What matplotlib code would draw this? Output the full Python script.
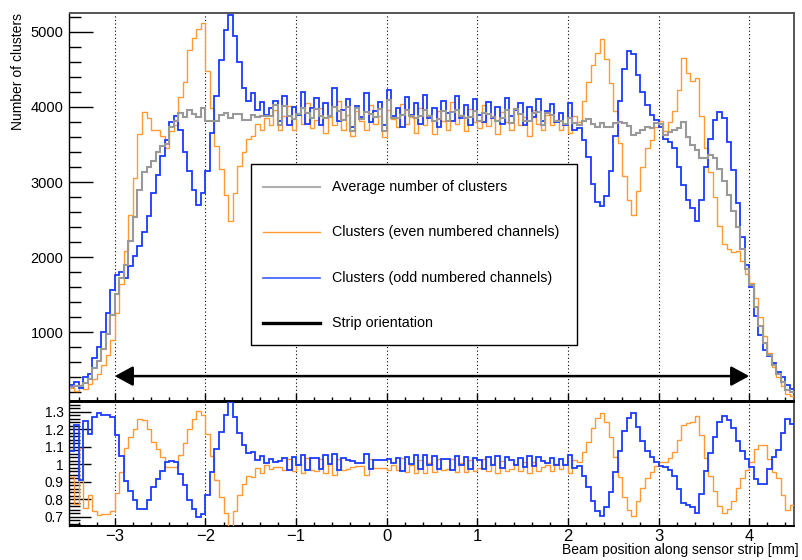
import numpy as np
import matplotlib
matplotlib.use("Agg")
import matplotlib.pyplot as plt
from matplotlib.patches import FancyArrowPatch, Rectangle, ArrowStyle
from matplotlib.lines import Line2D
from matplotlib.ticker import MultipleLocator, FuncFormatter

plt.rcParams['font.family'] = ['Liberation Sans', 'DejaVu Sans']

# ---------------- data ----------------
x_min = -3.5
bin_width = 0.05

even_counts = [
    250, 215, 300, 240, 310, 380, 440, 560, 700, 900,
    1260, 1640, 2080, 2560, 3050, 3640, 3930, 3850, 3700, 3690,
    3620, 3450, 3680, 3760, 4130, 4330, 4760, 4920, 5040, 5120,
    4480, 3990, 3480, 3170, 2830, 2480, 2860, 3210, 3400, 3580,
    3620, 3780, 3700, 3860, 3760,
    3960, 3700, 3880, 4010, 3690, 3920, 3780, 4050, 3720, 3830,
    3990, 3650, 3870, 3760, 4080, 3700, 3900, 3620, 3950, 3810,
    3700, 4020, 3780, 3880, 3600, 3960, 3840, 3730, 4040, 3780,
    3870, 3660, 3990, 3760, 3900, 3640, 3950, 3820, 3700, 4060,
    3780, 3900, 3680, 3970, 3800, 3720, 4030, 3750, 3880, 3640,
    3930, 3800, 3690, 3990, 3760, 3870, 3620, 3960, 3780, 3700,
    3900, 3760, 3830, 3700,
    3780, 3650, 3880, 3800, 4080, 4330, 4560, 4720, 4900, 4640,
    4320, 3950, 3520, 3080, 2760, 2560, 2880, 3200, 3450, 3560,
    3740, 3820, 3680, 3800, 3950, 4230, 4650, 4450, 4350, 4380,
    3880, 3450, 3140, 2800, 2420, 2180, 2110, 2070, 2080, 1950,
    1780, 1650, 1450, 1200, 950, 720, 540, 400, 280, 170,
    150,
]

odd_counts = [
    290, 340, 250, 400, 440, 660, 800, 1000, 1250, 1560,
    1760, 1800, 1720, 1880, 2020, 2150, 2330, 2550, 2850, 3100,
    3350, 3560, 3800, 3880, 3700, 3400, 3150, 2900, 2700, 2860,
    3150, 3650, 4150, 4620, 5020, 5220, 4950, 4600, 4250, 4080,
    4180, 3960, 4070, 3900, 3990,
    4080, 3820, 4150, 3760, 4000, 3900, 4200, 3780, 3980, 4120,
    3760, 4050, 3880, 4250, 3820, 3960, 4100, 3740, 4010, 3870,
    4180, 3800, 3950, 4060, 3760, 4220, 3880, 3990, 3740, 4130,
    3900, 4050, 3780, 4160, 3850, 3990, 3740, 4080, 3920, 3820,
    4150, 3860, 4020, 3760, 4100, 3900, 3800, 4070, 3850, 4000,
    3780, 4120, 3880, 3960, 4050, 3760, 4000, 3870, 4100, 3820,
    3950, 4040, 3800, 3920,
    3760, 4050, 3700, 3720, 3560, 3340, 2980, 2740, 2680, 2820,
    3150, 3620, 4080, 4500, 4740, 4700, 4420, 4200, 4030, 3890,
    3830, 3740, 3580, 3540, 3450, 3200, 2960, 2760, 2650, 2480,
    2760, 3200, 3580, 3830, 3940, 3850, 3540, 3160, 2720, 2270,
    1900, 1600, 1220, 960, 760, 680, 590, 470, 400, 290,
    240,
]

legend_labels = ["Average number of clusters",
                 "Clusters (even numbered channels)",
                 "Clusters (odd numbered channels)",
                 "Strip orientation"]

arrow_start, arrow_end, arrow_y = -3.0, 4.0, 413

even = np.array(even_counts, dtype=float)
odd = np.array(odd_counts, dtype=float)
edges = x_min + bin_width * np.arange(len(even) + 1)
avg = (even + odd) / 2.0
ratio_even = even / avg
ratio_odd = odd / avg

# ---------------- style ----------------
c_gray = '#999999'
c_orange = '#ff9933'
c_blue = '#1a3cff'

W, H = 803, 560
fig = plt.figure(figsize=(W / 100, H / 100), dpi=100)

def fx(px):
    return px / W

def fy(py):
    return (H - py) / H

L, R = 69.5, 794.5
ax = fig.add_axes([fx(L), fy(400.7), fx(R) - fx(L), fy(12.7) - fy(400.7)])
ax2 = fig.add_axes([fx(L), fy(525.7), fx(R) - fx(L), fy(402.3) - fy(525.7)])

# upper pad
ax.stairs(even, edges, color=c_orange, lw=1.0, baseline=None, zorder=3)
ax.stairs(odd, edges, color=c_blue, lw=1.3, baseline=None, zorder=4)
ax.stairs(avg, edges, color=c_gray, lw=1.5, baseline=None, zorder=5)

arr = FancyArrowPatch((arrow_start, arrow_y), (arrow_end, arrow_y),
                      arrowstyle=ArrowStyle('<|-|>', head_length=11, head_width=6),
                      mutation_scale=1, lw=1.8, color='k', shrinkA=0, shrinkB=0, zorder=6)
ax.add_patch(arr)

ax.set_xlim(-3.5, 4.5)
ax.set_ylim(85, 5257)

# lower pad
ax2.stairs(ratio_even, edges, color=c_orange, lw=1.0, baseline=None, zorder=3)
ax2.stairs(ratio_odd, edges, color=c_blue, lw=1.3, baseline=None, zorder=4)
ax2.set_xlim(-3.5, 4.5)
ax2.set_ylim(0.649, 1.354)

for a in (ax, ax2):
    a.xaxis.set_major_locator(MultipleLocator(1))
    a.xaxis.set_minor_locator(MultipleLocator(0.2))
    a.xaxis.grid(True, which='major', color='k', lw=0.8, ls=(0, (1, 2.2)))
    a.set_axisbelow(True)
    a.tick_params(which='both', direction='in', top=False, right=False, color='k')
    for s in ('top', 'right'):
        a.spines[s].set_color('#555555')
        a.spines[s].set_linewidth(1.4)
    a.spines['left'].set_linewidth(1.0)
    a.spines['bottom'].set_linewidth(1.4)

ax.yaxis.set_major_locator(MultipleLocator(1000))
ax.yaxis.set_minor_locator(MultipleLocator(200))
ax.tick_params(axis='y', which='major', length=17, width=1, labelsize=10.5, pad=4.4)
ax.tick_params(axis='y', which='minor', length=8.6, width=1)
ax.tick_params(axis='x', which='major', length=6, width=1, labelbottom=False)
ax.tick_params(axis='x', which='minor', length=3, width=1)

ax2.yaxis.set_major_locator(MultipleLocator(0.1))
ax2.yaxis.set_minor_locator(MultipleLocator(0.02))
ax2.yaxis.set_major_formatter(FuncFormatter(lambda v, p: '%g' % round(v, 2)))
ax2.tick_params(axis='y', which='major', length=15.8, width=1, labelsize=9.8, pad=4.4)
ax2.tick_params(axis='y', which='minor', length=7.9, width=1)
ax2.tick_params(axis='x', which='major', length=6, width=1, labelsize=12, pad=2.6)
ax2.tick_params(axis='x', which='minor', length=3, width=1)
ax2.spines['top'].set_color('k')

# axis titles
fig.text(fx(18), fy(13), "Number of clusters", rotation=90, ha='center', va='top', fontsize=10)
fig.text(fx(799), fy(554), "Beam position along sensor strip [mm]", ha='right', va='baseline', fontsize=10)

# legend (manual, ROOT style)
lx0, lx1, ly0, ly1 = 250.7, 576.7, 164.3, 345.0
fig.add_artist(Rectangle((fx(lx0), fy(ly1)), fx(lx1) - fx(lx0), fy(ly0) - fy(ly1),
                         transform=fig.transFigure, facecolor='white', edgecolor='k',
                         lw=1.0, zorder=10))
entry_y = [186.7, 232.3, 278.3, 323.3]
entry_c = ['#b0b0b0', c_orange, '#3a5cff', 'k']
entry_lw = [1.5, 1.0, 1.2, 2.4]
for yy, lab, col, lw in zip(entry_y, legend_labels, entry_c, entry_lw):
    fig.add_artist(Line2D([fx(263), fx(320)], [fy(yy), fy(yy)], transform=fig.transFigure,
                          color=col, lw=lw, zorder=11))
    fig.text(fx(331.7), fy(yy), lab, ha='left', va='center', fontsize=10.3, zorder=11)

fig.savefig("out.png", dpi=100)
